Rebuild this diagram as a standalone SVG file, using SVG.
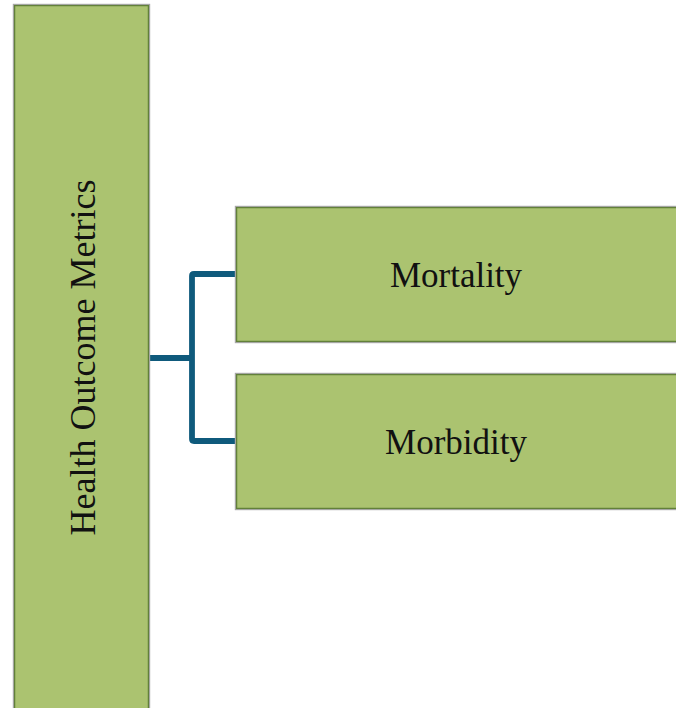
<svg xmlns="http://www.w3.org/2000/svg" width="676" height="708" viewBox="0 0 676 708">
<style>
.box{fill:#ABC370;stroke:#62803A;stroke-width:1.3}
.shadow{fill:none;stroke:#A8A8A8;stroke-width:1.2}
.lbl{font-family:"Liberation Serif","Times New Roman",serif;fill:#111;text-anchor:middle}
.conn{fill:none;stroke:#0F5A7C;stroke-width:5.8;stroke-linejoin:round}
</style>
<rect width="676" height="708" fill="#fff"/>
<g id="connectors">
<path class="conn" d="M149,358 H192"/>
<path class="conn" d="M236,274 H194 Q192,274 192,276 V439 Q192,441 194,441 H236"/>
</g>
<g id="node-health">
<rect class="shadow" x="13.4" y="4.4" width="136.2" height="710"/>
<rect class="box" x="14.6" y="5.6" width="133.8" height="710"/>
<text class="lbl" font-size="36" transform="translate(95,357.5) rotate(-90)">Health Outcome Metrics</text>
</g>
<g id="node-mortality">
<rect class="shadow" x="235.4" y="206.4" width="445" height="136.2"/>
<rect class="box" x="236.6" y="207.6" width="445" height="133.8"/>
<text class="lbl" font-size="35" x="456" y="287">Mortality</text>
</g>
<g id="node-morbidity">
<rect class="shadow" x="235.4" y="373.4" width="445" height="136.2"/>
<rect class="box" x="236.6" y="374.6" width="445" height="133.8"/>
<text class="lbl" font-size="35" x="456" y="453.5">Morbidity</text>
</g>
</svg>
